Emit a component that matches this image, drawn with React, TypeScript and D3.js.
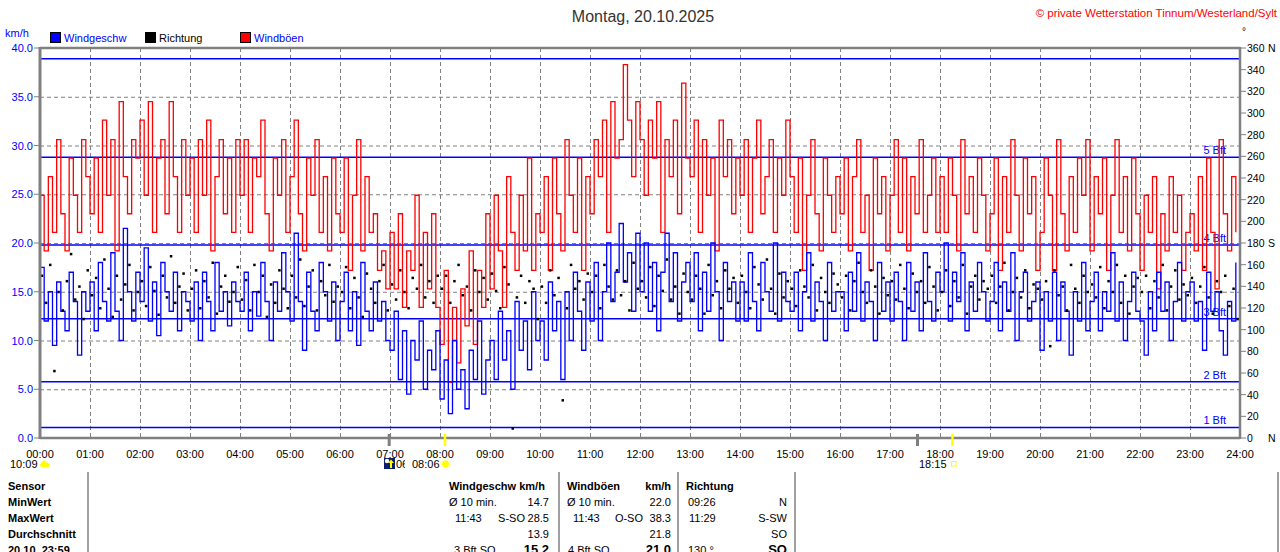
import React from 'react';
import * as d3 from 'd3';

// wind speed in km/h, one value every 5 minutes (12 per hour)
const speed: number[] = [
  17.5, 12, 15, 9.5, 16, 13, 11, 17, 14, 8.5, 15, 13,
  16, 11, 18, 14, 12, 19, 13, 10, 21.5, 15, 12, 17,
  14, 19.5, 12, 16, 10.5, 18, 15, 13, 17, 11, 15, 14,
  12, 16, 10, 17, 14, 11, 18, 13, 15, 11.5, 16, 14,
  13, 17, 11, 15, 12.5, 18, 14, 10, 16, 13, 19, 15,
  12, 21, 14, 9, 17, 13, 11, 18, 15, 12, 16, 10,
  14, 17, 11, 15, 9.5, 18, 13, 11, 16, 12, 14, 10,
  9, 13, 6, 11, 4.5, 10, 8, 12, 5, 9, 7, 11,
  4, 8, 2.5, 10, 5, 7, 3, 9, 6, 12, 4.5, 8,
  10, 6, 13, 8, 11, 5, 14, 9, 12, 7, 15, 10,
  12, 8, 16, 11, 14, 6, 15, 10, 17, 13, 9, 16,
  12, 18, 10, 15, 20, 14, 17, 22, 16, 19, 13, 21,
  15, 20, 13, 18, 11, 17, 21, 14, 19, 12, 16, 18,
  14, 19, 11, 17, 13, 20, 15, 10, 18, 14, 16, 12,
  16, 12, 19, 14, 11, 18, 15, 13, 20, 12, 17, 14,
  13, 17, 11, 15, 19, 12, 16, 14, 10, 18, 13, 15,
  15, 11, 17, 13, 19, 12, 16, 14, 10, 18, 13, 16,
  12, 17, 14, 10, 18, 13, 16, 11, 19, 14, 12, 17,
  15, 20, 12, 17, 14, 19, 11, 16, 13, 18, 15, 12,
  14, 18, 11, 16, 13, 19, 10, 15, 17, 12, 14, 16,
  9, 15, 12, 17, 10, 16, 13, 8.5, 15, 12, 18, 11,
  14, 17, 11, 15, 13, 19, 12, 16, 10, 14, 17, 13,
  12, 8.5, 15, 11, 17, 13, 16, 10, 14, 18, 12, 15,
  16, 12, 14, 9, 17, 13, 15, 11, 8.5, 14, 12, 18,
];

// gusts in km/h (sensor resolution ~1.9 km/h)
const gusts: number[] = [
  24.9, 19.2, 26.8, 21.1, 30.6, 23.0, 19.2, 28.7, 24.9, 21.1, 30.6, 26.8,
  23.0, 28.7, 21.1, 32.6, 24.9, 30.6, 19.2, 34.5, 26.8, 23.0, 30.6, 28.7,
  32.6, 24.9, 34.5, 21.1, 28.7, 30.6, 23.0, 34.5, 26.8, 21.1, 30.6, 24.9,
  28.7, 21.1, 30.6, 24.9, 32.6, 19.2, 26.8, 30.6, 23.0, 28.7, 21.1, 30.6,
  24.9, 30.6, 21.1, 28.7, 26.8, 32.6, 23.0, 19.2, 28.7, 24.9, 30.6, 21.1,
  26.8, 32.6, 23.0, 19.2, 28.7, 24.9, 30.6, 21.1, 26.8, 19.2, 28.7, 23.0,
  21.1, 28.7, 17.2, 24.9, 30.6, 19.2, 26.8, 21.1, 23.0, 17.2, 19.2, 15.3,
  21.1, 15.3, 23.0, 13.4, 19.2, 17.2, 24.9, 13.4, 21.1, 15.3, 23.0, 13.4,
  9.6, 17.2, 5.7, 13.4, 7.7, 15.3, 11.5, 19.2, 9.6, 17.2, 13.4, 23.0,
  15.3, 24.9, 19.2, 13.4, 26.8, 21.1, 17.2, 24.9, 19.2, 28.7, 17.2, 23.0,
  21.1, 26.8, 17.2, 28.7, 23.0, 19.2, 30.6, 24.9, 21.1, 28.7, 17.2, 26.8,
  23.0, 30.6, 26.8, 32.6, 21.1, 34.5, 28.7, 30.6, 38.3, 32.6, 26.8, 34.5,
  30.6, 24.9, 32.6, 28.7, 34.5, 21.1, 30.6, 26.8, 32.6, 23.0, 36.4, 28.7,
  26.8, 32.6, 21.1, 30.6, 24.9, 28.7, 19.2, 32.6, 26.8, 30.6, 23.0, 28.7,
  24.9, 30.6, 21.1, 28.7, 32.6, 23.0, 26.8, 30.6, 21.1, 28.7, 24.9, 32.6,
  26.8, 21.1, 28.7, 17.2, 24.9, 30.6, 23.0, 19.2, 28.7, 24.9, 21.1, 26.8,
  23.0, 28.7, 19.2, 26.8, 30.6, 21.1, 24.9, 17.2, 28.7, 23.0, 26.8, 19.2,
  24.9, 30.6, 21.1, 28.7, 19.2, 26.8, 23.0, 30.6, 21.1, 24.9, 28.7, 21.1,
  26.8, 21.1, 28.7, 24.9, 19.2, 30.6, 23.0, 26.8, 21.1, 28.7, 24.9, 19.2,
  23.0, 28.7, 17.2, 26.8, 21.1, 30.6, 24.9, 19.2, 28.7, 23.0, 26.8, 17.2,
  21.1, 28.7, 24.9, 17.2, 30.6, 23.0, 19.2, 26.8, 21.1, 28.7, 24.9, 30.6,
  19.2, 26.8, 23.0, 28.7, 17.2, 24.9, 30.6, 21.1, 26.8, 19.2, 28.7, 23.0,
  17.2, 24.9, 21.1, 26.8, 15.3, 23.0, 19.2, 26.8, 21.1, 24.9, 17.2, 21.1,
  23.0, 19.2, 26.8, 17.2, 28.7, 21.1, 15.3, 30.6, 23.0, 19.2, 26.8, 21.1,
];

// wind direction in degrees
const direction: number[] = [
  150, 125, 160, 62, 135, 118, 145, 170, 128, 140, 110, 155,
  132, 148, 120, 165, 138, 112, 150, 128, 142, 160, 118, 135,
  145, 122, 158, 136, 114, 150, 130, 168, 125, 140, 152, 118,
  138, 155, 120, 145, 130, 162, 115, 140, 150, 126, 135, 158,
  128, 146, 118, 160, 135, 150, 112, 142, 125, 155, 138, 120,
  150, 130, 165, 122, 140, 155, 118, 145, 132, 160, 126, 140,
  135, 158, 120, 148, 130, 112, 152, 138, 125, 145, 160, 118,
  142, 128, 155, 135, 120, 148, 138, 160, 130, 145, 125, 150,
  138, 150, 125, 145, 160, 132, 140, 118, 155, 135, 148, 128,
  152, 136, 120, 158, 142, 9, 130, 150, 125, 145, 138, 110,
  140, 125, 155, 132, 148, 35, 120, 160, 138, 145, 128, 152,
  135, 150, 120, 160, 140, 128, 155, 132, 145, 118, 162, 138,
  145, 130, 158, 122, 150, 136, 165, 128, 140, 115, 152, 135,
  128, 150, 138, 115, 160, 132, 145, 120, 155, 138, 148, 125,
  150, 135, 120, 158, 142, 128, 165, 138, 115, 152, 130, 145,
  138, 122, 155, 140, 130, 160, 118, 148, 135, 125, 152, 142,
  130, 150, 118, 145, 162, 135, 125, 155, 140, 115, 148, 132,
  145, 128, 160, 138, 120, 152, 135, 145, 125, 158, 140, 118,
  135, 155, 122, 145, 130, 160, 115, 140, 150, 128, 145, 138,
  150, 125, 140, 162, 118, 135, 148, 130, 155, 120, 142, 138,
  128, 145, 85, 155, 132, 140, 118, 160, 138, 125, 150, 135,
  142, 130, 158, 120, 145, 135, 160, 125, 150, 115, 140, 148,
  135, 150, 120, 145, 130, 160, 118, 140, 155, 128, 142, 132,
  148, 125, 140, 158, 130, 115, 145, 135, 150, 122, 138, 110,
];

const hourLabels = d3.range(0, 25).map(h => `${String(h).padStart(2, '0')}:00`);
const kmhTicks = [0, 5, 10, 15, 20, 25, 30, 35, 40];
const dirTicks = d3.range(0, 361, 20);
const compass: Record<number, string> = { 0: 'N', 180: 'S', 360: 'N' };

// Beaufort thresholds in km/h
const bftLevels = [1.08, 5.76, 12.24, 19.8, 28.8, 38.9];
const bftLabels = ['1 Bft', '2 Bft', '3 Bft', '4 Bft', '5 Bft', ''];

// twilight / sun times in minutes
const twilight = [419, 1053];
const sunTimes = [486, 1095];

const rowLabels = ['Sensor', 'MinWert', 'MaxWert', 'Durchschnitt', '20.10. 23:59'];

const W = 1280;
const H = 552;
const X0 = 40, X1 = 1240, Y0 = 438, Y1 = 48;
const FONT = '"Liberation Sans", Arial, sans-serif';
const GRAY = '#808080';
const BLUE = '#0000ff';

const App: React.FC = () => {
  const x = d3.scaleLinear().domain([0, 1440]).range([X0, X1]);
  const y = d3.scaleLinear().domain([0, 40]).range([Y0, Y1]);
  const yDir = d3.scaleLinear().domain([0, 360]).range([Y0, Y1]);

  const step = 5;
  const mkLine = (vals: number[]) =>
    d3.line<number>()
      .x((_, i) => x(i * step))
      .y(d => y(d))
      .curve(d3.curveStepAfter)(vals) || '';

  const rowY = (i: number) => 490 + i * 16;

  return (
    <div style={{ position: 'absolute', left: 0, top: 0 }}>
      <svg width={W} height={H} style={{ display: 'block', background: '#fff' }} fontFamily={FONT}>
        <defs>
          <clipPath id="plot">
            <rect x={X0 + 1} y={Y1 + 1} width={X1 - X0 - 2} height={Y0 - Y1 - 2} />
          </clipPath>
          <clipPath id="moonclip">
            <rect x={394} y={450} width={11} height={25} />
          </clipPath>
        </defs>

        {/* title and header */}
        <text x={643} y={22} fontSize={16} textAnchor="middle" fill="#333">Montag, 20.10.2025</text>
        <text x={1277} y={17} fontSize={11.5} textAnchor="end" fill="#ff0000">© private Wetterstation Tinnum/Westerland/Sylt</text>
        <text x={1242} y={35} fontSize={10} fill="#000">°</text>
        <text x={5} y={37} fontSize={11} fill={BLUE}>km/h</text>

        {/* legend */}
        {[
          { x: 50, color: BLUE, label: 'Windgeschw', text: BLUE },
          { x: 145, color: '#000', label: 'Richtung', text: '#000' },
          { x: 240, color: '#ff0000', label: 'Windböen', text: BLUE },
        ].map(l => (
          <g key={l.label}>
            <rect x={l.x + 0.5} y={32.5} width={10} height={10} fill={l.color} stroke="#000" />
            <text x={l.x + 14} y={42} fontSize={11} fill={l.text}>{l.label}</text>
          </g>
        ))}

        {/* grid */}
        {d3.range(1, 24).map(h => (
          <line key={'vg' + h} x1={x(h * 60) + 0.5} x2={x(h * 60) + 0.5} y1={Y1} y2={Y0}
            stroke={GRAY} strokeDasharray="4,3" />
        ))}
        {kmhTicks.slice(1, -1).map(v => (
          <line key={'hg' + v} x1={X0} x2={X1} y1={y(v) + 0.5} y2={y(v) + 0.5}
            stroke={GRAY} strokeDasharray="4,3" />
        ))}

        {/* Beaufort lines */}
        {bftLevels.map((v, i) => (
          <g key={'bft' + i}>
            <line x1={X0} x2={X1} y1={y(v)} y2={y(v)} stroke={BLUE} strokeWidth={1.5} />
            {bftLabels[i] && (
              <text x={1226} y={y(v) - 3} fontSize={11} textAnchor="end" fill={BLUE}>{bftLabels[i]}</text>
            )}
          </g>
        ))}

        {/* data */}
        <g clipPath="url(#plot)">
          <path d={mkLine(gusts)} fill="none" stroke="#ff0000" strokeWidth={1.3} />
          <path d={mkLine(speed)} fill="none" stroke={BLUE} strokeWidth={1.3} />
          {direction.map((d, i) => (
            <rect key={'dir' + i} x={x(i * step + 2) - 1} y={yDir(d) - 1} width={2.5} height={2.5} fill="#000" />
          ))}
        </g>

        {/* frame / axes */}
        <line x1={X0} x2={X1} y1={Y1} y2={Y1} stroke={GRAY} strokeWidth={2.5} />
        <line x1={X0} x2={X1} y1={Y0} y2={Y0} stroke={GRAY} strokeWidth={2.5} />
        <line x1={X0} x2={X0} y1={Y1 - 1} y2={Y0 + 1} stroke={GRAY} strokeWidth={3} />
        <line x1={X1} x2={X1} y1={Y1 - 1} y2={Y0 + 1} stroke={GRAY} strokeWidth={2.5} />

        {/* left axis */}
        {kmhTicks.map(v => (
          <g key={'ly' + v}>
            <line x1={34} x2={X0} y1={y(v)} y2={y(v)} stroke={GRAY} />
            <text x={33} y={y(v) + 4} fontSize={11} textAnchor="end" fill={BLUE}>{v.toFixed(1)}</text>
          </g>
        ))}

        {/* right axis */}
        {dirTicks.map(v => (
          <g key={'ry' + v}>
            <line x1={X1} x2={1246} y1={yDir(v)} y2={yDir(v)} stroke={GRAY} />
            <text x={1247} y={yDir(v) + 4} fontSize={10.5} fill="#000">{v}</text>
            {compass[v] && (
              <text x={1268} y={yDir(v) + 4} fontSize={10.5} fill="#000">{compass[v]}</text>
            )}
          </g>
        ))}

        {/* bottom axis */}
        {hourLabels.map((l, h) => (
          <text key={l} x={x(h * 60)} y={458} fontSize={11} textAnchor="middle" fill="#000">{l}</text>
        ))}
        {twilight.map(t => (
          <line key={'tw' + t} x1={x(t)} x2={x(t)} y1={434} y2={446} stroke={GRAY} strokeWidth={3} />
        ))}
        {sunTimes.map(t => (
          <line key={'sun' + t} x1={x(t)} x2={x(t)} y1={434} y2={446} stroke="#ffff00" strokeWidth={2.5} />
        ))}

        {/* moon / sun markers */}
        <text x={10} y={468} fontSize={11} fill="#000">10:09</text>
        <ellipse cx={45} cy={465} rx={5} ry={2.5} fill="#ffff00" />
        <circle cx={44} cy={463} r={2.5} fill="#ffff00" />
        <rect x={384} y={458} width={11} height={11} fill="#0a1f6e" />
        <circle cx={387} cy={461} r={2.2} fill="#fff" />
        <path d="M390,468 L390,463 L388,463 L391,459.5 L394,463 L392,463 L392,468 Z" fill="#ffff00" />
        <text x={396} y={468} fontSize={11} fill="#000" clipPath="url(#moonclip)">06</text>
        <text x={412} y={468} fontSize={11} fill="#000">08:06</text>
        <circle cx={445.5} cy={464} r={3.5} fill="#ffff00" />
        <circle cx={445.5} cy={464} r={5.5} fill="none" stroke="#ffff80" strokeWidth={1} strokeDasharray="1.5,1.5" />
        <text x={919} y={468} fontSize={11} fill="#000">18:15</text>
        <rect x={951.5} y={461.5} width={4.5} height={4.5} fill="#fff" stroke="#ffff00" />

        {/* table */}
        {[88, 559, 678, 795, 1278].map(sx => (
          <line key={'sep' + sx} x1={sx} x2={sx} y1={472} y2={H} stroke={GRAY} strokeWidth={1.5} />
        ))}
        {rowLabels.map((r, i) => (
          <text key={r} x={8} y={rowY(i)} fontSize={11} fontWeight="bold" fill="#000">{r}</text>
        ))}
        <g fontSize={11} fill="#000">
          <text x={449} y={rowY(0)} fontWeight="bold">Windgeschw km/h</text>
          <text x={567} y={rowY(0)} fontWeight="bold">Windböen</text>
          <text x={671} y={rowY(0)} fontWeight="bold" textAnchor="end">km/h</text>
          <text x={686} y={rowY(0)} fontWeight="bold">Richtung</text>

          <text x={449} y={rowY(1)}>Ø 10 min.</text>
          <text x={549} y={rowY(1)} textAnchor="end">14.7</text>
          <text x={567} y={rowY(1)}>Ø 10 min.</text>
          <text x={671} y={rowY(1)} textAnchor="end">22.0</text>
          <text x={688} y={rowY(1)}>09:26</text>
          <text x={787} y={rowY(1)} textAnchor="end">N</text>

          <text x={455} y={rowY(2)}>11:43</text>
          <text x={525} y={rowY(2)} textAnchor="end">S-SO</text>
          <text x={549} y={rowY(2)} textAnchor="end">28.5</text>
          <text x={573} y={rowY(2)}>11:43</text>
          <text x={643} y={rowY(2)} textAnchor="end">O-SO</text>
          <text x={671} y={rowY(2)} textAnchor="end">38.3</text>
          <text x={689} y={rowY(2)}>11:29</text>
          <text x={787} y={rowY(2)} textAnchor="end">S-SW</text>

          <text x={549} y={rowY(3)} textAnchor="end">13.9</text>
          <text x={671} y={rowY(3)} textAnchor="end">21.8</text>
          <text x={787} y={rowY(3)} textAnchor="end">SO</text>

          <text x={454} y={rowY(4)}>3 Bft SO</text>
          <text x={549} y={rowY(4)} textAnchor="end" fontWeight="bold" fontSize={13}>15.2</text>
          <text x={568} y={rowY(4)}>4 Bft SO</text>
          <text x={671} y={rowY(4)} textAnchor="end" fontWeight="bold" fontSize={13}>21.0</text>
          <text x={688} y={rowY(4)}>130 °</text>
          <text x={787} y={rowY(4)} textAnchor="end" fontWeight="bold" fontSize={13}>SO</text>
        </g>
      </svg>
    </div>
  );
};

export default App;
